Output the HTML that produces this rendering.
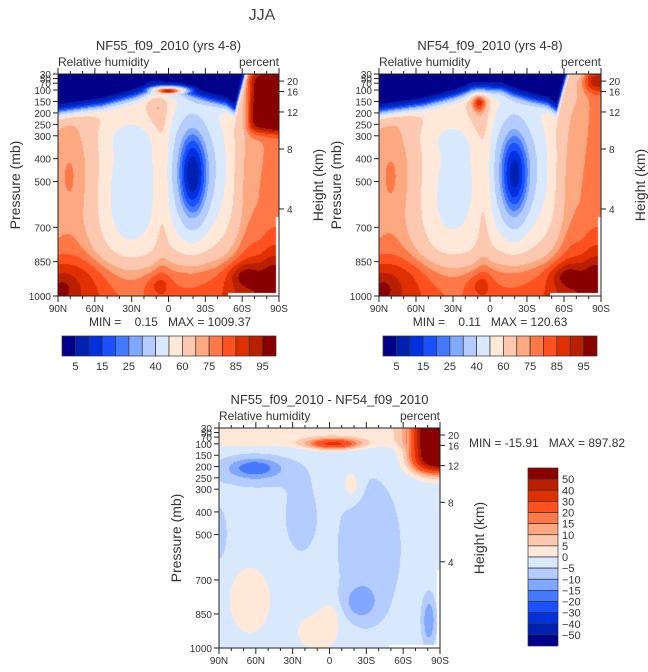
<!DOCTYPE html>
<html><head><meta charset="utf-8">
<style>
body{margin:0;background:#fff;}
#root{position:relative;width:648px;height:672px;overflow:hidden;background:#fff;font-family:"Liberation Sans",sans-serif;color:#333;}
.t{position:absolute;white-space:nowrap;line-height:1;}
canvas{position:absolute;}
svg{position:absolute;left:0;top:0;}
</style></head>
<body>
<div id="root">
<div class="t" style="left:0;width:524px;text-align:center;top:8px;font-size:16px;color:#444">JJA</div>
<canvas id="c1" width="221" height="222" style="left:58px;top:74px"></canvas>
<canvas id="c2" width="222" height="222" style="left:379px;top:74px"></canvas>
<canvas id="c3" width="221" height="220" style="left:219px;top:428px"></canvas>
<svg id="ov" width="648" height="672"></svg>
</div>
<script>
const rhLevels=[5,10,15,20,25,30,40,50,60,70,75,80,85,90,95];
const rhColors=["#00008a","#0020b0","#0030e0","#1a50ff","#4478ff","#80a8ff","#b4ccff","#d8e8ff","#ffe8d8","#fdc8b0","#fca880","#ff7848","#ff5020","#e03000","#b82000","#8a0000"];
const rhLabels=["5","15","25","40","60","75","85","95"];
const diffLevels=[-50,-40,-30,-20,-15,-10,-5,0,5,10,15,20,30,40,50];
const diffColors=rhColors;
const pressureTicks=[30,50,70,100,150,200,250,300,400,500,700,850,1000];
const latLabels=["90N","60N","30N","0","30S","60S","90S"];
const heightTicks=[20,16,12,8,4];
const heightFrac=[0.032,0.079,0.171,0.338,0.608];

const NS="http://www.w3.org/2000/svg";
const ov=document.getElementById('ov');
function el(tag,attrs,parent){const e=document.createElementNS(NS,tag);for(const k in attrs)e.setAttribute(k,attrs[k]);(parent||ov).appendChild(e);return e;}
function txt(x,y,s,size,anchor,name,rot){const e=el('text',{x:x,y:y,'font-size':size,'text-anchor':anchor||'start',fill:'#333','font-family':'Liberation Sans, sans-serif',style:'white-space:pre'});if(rot)e.setAttribute('transform','rotate(-90 '+x+' '+y+')');e.textContent=s;


return e;}
function sig(x){return 1/(1+Math.exp(-x));}
function g(u,p,u0,p0,su,sp){const a=(u-u0)/su,b=(p-p0)/sp;return Math.exp(-0.5*(a*a+b*b));}
function lerpPts(pts,u){for(let i=1;i<pts.length;i++){if(u<=pts[i][0]){const t=(u-pts[i-1][0])/(pts[i][0]-pts[i-1][0]);return pts[i-1][1]+t*(pts[i][1]-pts[i-1][1]);}}return pts[pts.length-1][1];}
function colorFor(v,levels,colors){let i=0;while(i<levels.length&&v>=levels[i])i++;return colors[i];}

function rh(u,p,alt){
  let v=65;
  v+= 11*g(u,p,0.06,480,0.08,220);
  v-= (alt?18:22)*g(u,p,0.32,560,0.1,240);
  v-= 6*g(u,p,0.3,300,0.1,60);
  v-= (alt?40:42)*g(u,p,0.61,480,0.055,170);
  v-= 18*g(u,p,0.6,400,0.12,260);
  v-= 8*g(u,p,0.74,450,0.05,250);
  v+= 10*g(u,p,0.47,450,0.025,300);
  v+= 10*g(u,p,0.87,520,0.05,300);
  v+= 18*sig((p-850)/35);
  v+= 8*sig((p-720)/40)*(sig((0.18-u)/0.05)+sig((u-0.75)/0.04));
  v+= 6*g(u,p,0.45,950,0.04,35)+7*g(u,p,0.84,910,0.05,35)+6*g(u,p,0.02,970,0.04,40);
  v+= 12*sig((u-0.93)/0.02);
  const ptr=lerpPts([[0,205],[0.2,175],[0.35,135],[0.42,110],[0.55,105],[0.6,125],[0.68,150],[0.76,170],[0.8,200],[0.84,60],[0.86,0],[1,0]],u);
  const s=sig((p-ptr)/14);
  v=v*s+2*(1-s);
  if(!alt){v=Math.max(v,92*g(u,p,0.5,104,0.06,14));v+=10*g(u,p,0.44,180,0.03,60);
    v+=30*sig((u-0.865)/0.012)*sig((280-p)/15);}
  else{v+=24*g(u,p,0.45,150,0.025,28)+8*g(u,p,0.44,210,0.03,60);
    v+=20*sig((u-0.93)/0.015)*sig((100-p)/15);}
  return v;
}
function diff(u,p){
  let v=-3;
  v+=7*g(u,p,0.6,280,0.03,50)+7*g(u,p,0.14,790,0.07,110)+7*g(u,p,0.45,930,0.07,60)+5*g(u,p,0.5,850,0.03,40);
  v+=6*sig((112-p)/10)*(u<0.85?1:0);
  v+=32*g(u,p,0.52,100,0.08,16);
  v+=90*sig((u-0.9)/0.03)*sig((210-p)/20);
  v-=13*g(u,p,0.16,205,0.08,30);
  v-=4*g(u,p,0.18,230,0.14,50);
  v-=5*g(u,p,0.37,420,0.05,110);
  v-=5.5*g(u,p,0.68,560,0.1,220);
  v-=4*g(u,p,0.0,500,0.03,100);
  v-=9*g(u,p,0.64,800,0.05,50);
  v-=12*g(u,p,0.95,880,0.02,70);
  return v;
}
function drawField(id,fn,levels,colors){
  const c=document.getElementById(id),ctx=c.getContext('2d'),W=c.width,H=c.height;
  for(let y=0;y<H;y++){const p=30+(y+0.5)/H*970;
    for(let x=0;x<W;x++){const u=(x+0.5)/W;
      if((u>0.985&&p>655)||(u>0.77&&p>985))continue;
      ctx.fillStyle=colorFor(fn(u,p),levels,colors);ctx.fillRect(x,y,1,1);}}
}
drawField('c1',(u,p)=>rh(u,p,false),rhLevels,rhColors);
drawField('c2',(u,p)=>rh(u,p,true),rhLevels,rhColors);
drawField('c3',diff,diffLevels,diffColors);

function axes(px,py,w,h,title,pfx){
  const X=u=>px+u*w, Y=p=>py+(p-30)/970*h;
  el('rect',{x:px,y:py,width:w,height:h,fill:'none',stroke:'#222','stroke-width':1});
  txt(px+w/2,py-24,title,13,'middle',pfx+'-title');
  txt(px,py-8,'Relative humidity',12,'start',pfx+'-variable-label');
  txt(px+w,py-8,'percent',12,'end',pfx+'-units-label');
  for(let d=0;d<=18;d++){const x=X(d/18),len=d%3==0?6:3;
    el('line',{x1:x,y1:py,x2:x,y2:py-len,stroke:'#222'});el('line',{x1:x,y1:py+h,x2:x,y2:py+h+len,stroke:'#222'});}
  latLabels.forEach((l,i)=>txt(X(i/6),py+h+16,l,10,'middle',pfx+'-lat-label'));
  pressureTicks.forEach(p=>{const y=Y(p);el('line',{x1:px,y1:y,x2:px-5,y2:y,stroke:'#222'});txt(px-7,y+4,String(p),10,'end',pfx+'-pressure-tick-label');});
  heightTicks.forEach((z,i)=>{const y=py+heightFrac[i]*h;el('line',{x1:px+w,y1:y,x2:px+w+5,y2:y,stroke:'#222'});txt(px+w+8,y+4,String(z),10,'start',pfx+'-height-tick-label');});
  txt(px-38,py+h/2,'Pressure (mb)',14,'middle',pfx+'-y-axis-title',true);
  txt(px+w+44,py+h/2,'Height (km)',14,'middle',pfx+'-right-axis-title',true);
}
axes(58,74,221,222,'NF55_f09_2010 (yrs 4-8)','panel1');
axes(379,74,222,222,'NF54_f09_2010 (yrs 4-8)','panel2');
axes(219,428,221,220,'NF55_f09_2010 - NF54_f09_2010','panel3');
txt(170,326,'MIN =    0.15   MAX = 1009.37',12,'middle','panel1-min-max');
txt(490,326,'MIN =    0.11   MAX = 120.63',12,'middle','panel2-min-max');
txt(469,447,'MIN = -15.91   MAX = 897.82',12,'start','panel3-min-max');

function hbar(x0,y0,w,h,pfx){
  const bw=w/rhColors.length;
  rhColors.forEach((c,i)=>{const r=el('rect',{x:x0+i*bw,y:y0,width:bw,height:h,fill:c,stroke:'#333','stroke-width':0.7});
    });
  rhLabels.forEach((l,i)=>txt(x0+(2*i+1)*bw,y0+h+14,l,11,'middle',pfx+'-colorbar-label'));
}
hbar(62,336,214,20,'panel1');
hbar(383,336,214,20,'panel2');
(function(){const x0=528,y0=468,w=30,h=178,bh=h/16;
  diffColors.slice().reverse().forEach((c,i)=>{const r=el('rect',{x:x0,y:y0+i*bh,width:w,height:bh,fill:c,stroke:'#333','stroke-width':0.7});
    });
  diffLevels.slice().reverse().forEach((l,i)=>txt(x0+w+4,y0+(i+1)*bh+4,String(l).replace('-','\u2212'),11,'start','diff-colorbar-label'));
})();
</script>
</body></html>
